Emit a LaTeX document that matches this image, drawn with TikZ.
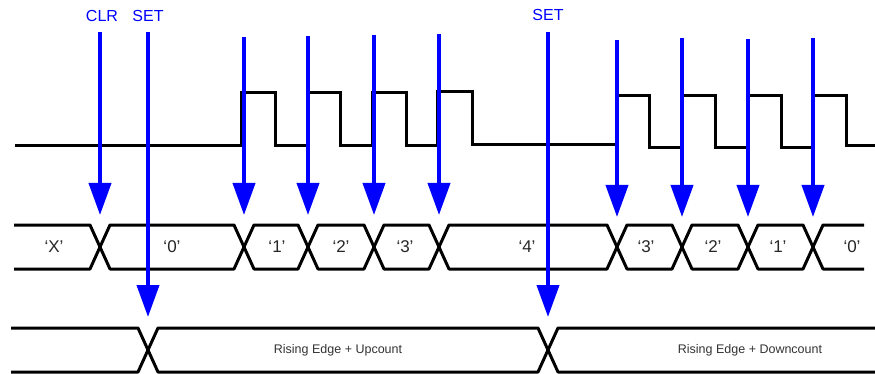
\documentclass[tikz,border=0pt]{standalone}
\usepackage{fontspec}
\setmainfont{Liberation Sans}
\usetikzlibrary{arrows.meta}
\begin{document}
\begin{tikzpicture}[x=1pt,y=-1pt,
  sig/.style={line width=3pt,black,line join=miter},
  bus/.style={line width=3pt,black,line join=round},
  clk/.style={blue,line width=4pt,-{Triangle[width=22pt,length=32pt]}},
  lbl/.style={text=blue,font=\fontsize{16}{16}\selectfont,inner sep=0pt},
  val/.style={text=black!85,font=\fontsize{17}{17}\selectfont,inner sep=0pt},
  mode/.style={text=black!80,font=\fontsize{12.5}{12.5}\selectfont,inner sep=0pt}]
\useasboundingbox (0,0) rectangle (875,374);
% clock / input signal
\draw[sig] (15,146) -- (241,146) -- (241,93) -- (275,93) -- (275,146)
  -- (307,146) -- (307,93) -- (340,93) -- (340,146)
  -- (372,146) -- (372,93) -- (406,93) -- (406,146)
  -- (437,146) -- (437,92) -- (472,92) -- (472,145)
  -- (617,145) -- (617,96) -- (649,96) -- (649,148)
  -- (682,148) -- (682,96) -- (715,96) -- (715,148)
  -- (747,148) -- (747,96) -- (781,96) -- (781,148)
  -- (813,148) -- (813,96) -- (846,96) -- (846,146) -- (875,146);
% counter value bus
\draw[bus] (14,225) -- (90,225) -- (100,247) -- (90,269) -- (14,269);
\foreach \a/\b in {100/244,244/308,308/374,374/439,439/617,617/682,682/748,748/813}
  \draw[bus] (\a,247) -- (\a+10,225) -- (\b-10,225) -- (\b,247) -- (\b-10,269) -- (\a+10,269) -- cycle;
\draw[bus] (864,225) -- (823,225) -- (813,247) -- (823,269) -- (864,269);
% mode bus
\draw[bus] (11,328) -- (138,328) -- (148,350) -- (138,372) -- (11,372);
\draw[bus] (148,350) -- (158,328) -- (538,328) -- (548,350) -- (538,372) -- (158,372) -- cycle;
\draw[bus] (876,328) -- (558,328) -- (548,350) -- (558,372) -- (876,372);
% value labels
\node[val] (vX) at (54,247) {‘X’};
\node[val] (v0) at (172,247) {‘0’};
\node[val] (v1) at (277,247) {‘1’};
\node[val] (v2) at (341,247) {‘2’};
\node[val] (v3) at (405,247) {‘3’};
\node[val] (v4) at (527,247) {‘4’};
\node[val] (w3) at (646,247) {‘3’};
\node[val] (w2) at (713,247) {‘2’};
\node[val] (w1) at (778,247) {‘1’};
\node[val] (w0) at (852,247) {‘0’};
\node[mode] (up) at (338,350) {Rising Edge + Upcount};
\node[mode] (down) at (750,350) {Rising Edge + Downcount};
% arrows
\node[lbl] (clr) at (102,16) {CLR};
\node[lbl] (set1) at (148,16) {SET};
\node[lbl] (set2) at (548,15) {SET};
\coordinate (clrT) at (100,32); \coordinate (clrB) at (100,215);
\coordinate (s1T) at (148,32); \coordinate (s1B) at (148,317);
\coordinate (s2T) at (548,32); \coordinate (s2B) at (548,317);
\draw[clk] (clrT) -- (clrB);
\draw[clk] (s1T) -- (s1B);
\draw[clk] (s2T) -- (s2B);
\foreach \x/\t/\b in {244/37/215,308/36/215,374/35/215,439/34/215,617/40/217,682/38/217,748/39/217,813/38/217}{
  \coordinate (cT\x) at (\x,\t); \coordinate (cB\x) at (\x,\b);
  \draw[clk] (cT\x) -- (cB\x);
}
\end{tikzpicture}
\end{document}
